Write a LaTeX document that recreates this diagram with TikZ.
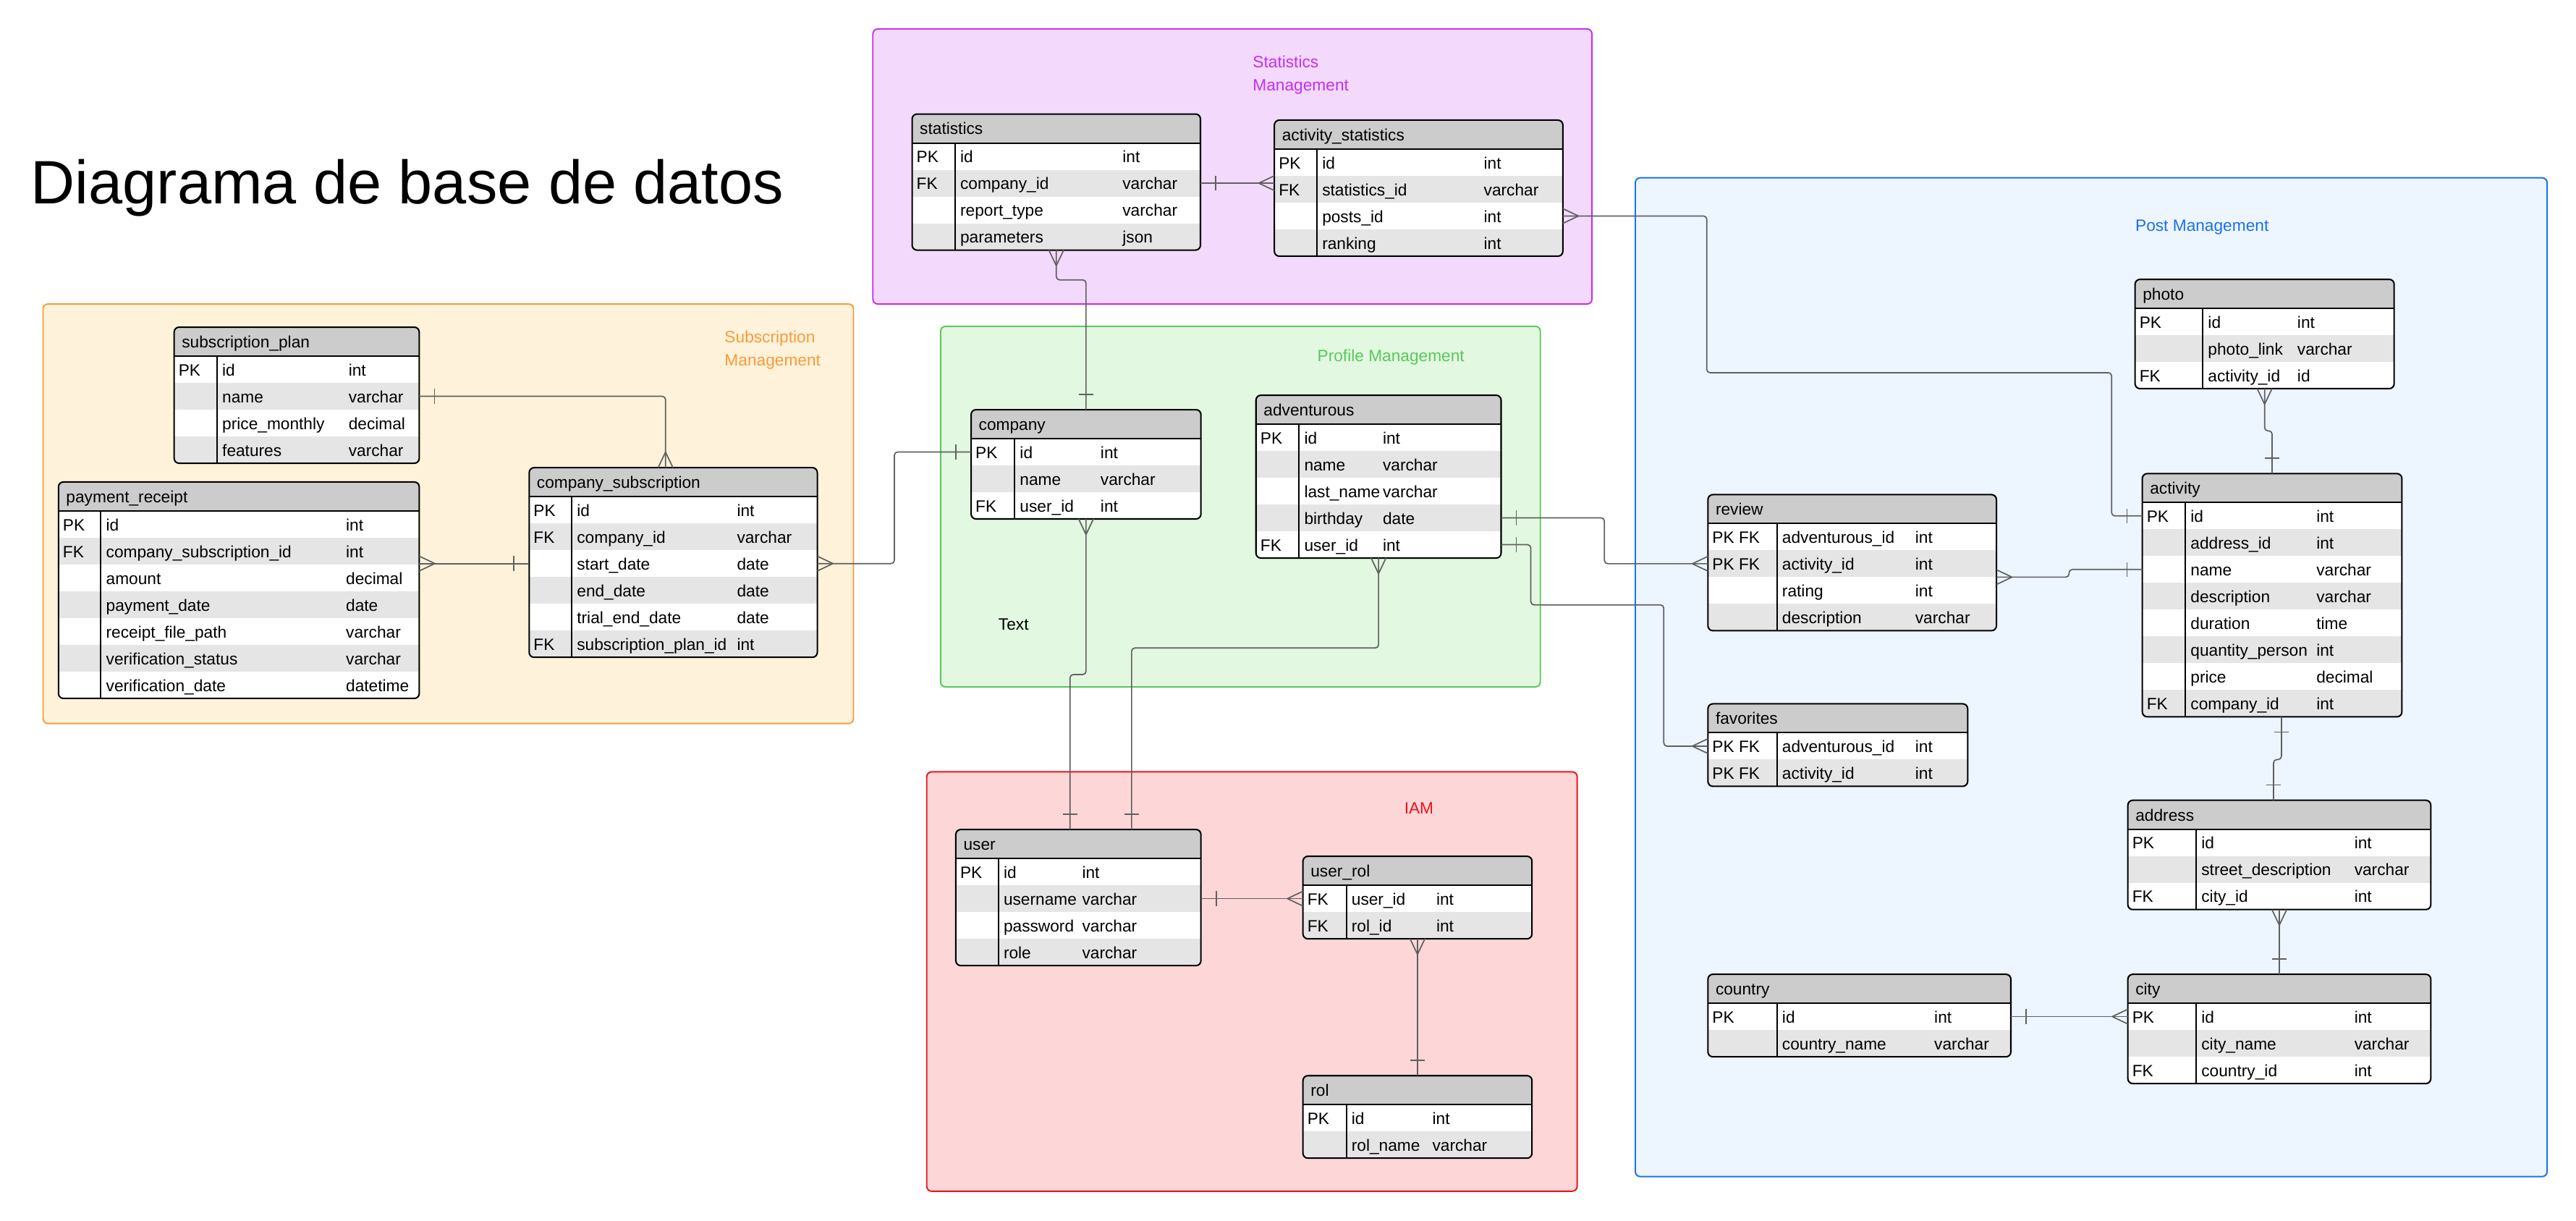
\documentclass[tikz,border=0pt]{standalone}
\usepackage{fontspec}
\setmainfont{Liberation Sans}
\usepackage{xcolor}
\usepackage{tikz}

\definecolor{connline}{HTML}{606060}
\definecolor{headgray}{HTML}{CCCCCC}
\definecolor{rowgray}{HTML}{E5E5E5}
\definecolor{statline}{HTML}{C430F2}
\definecolor{statfill}{HTML}{F3D9FC}
\definecolor{subline}{HTML}{F89C3C}
\definecolor{subfill}{HTML}{FEF2DA}
\definecolor{profline}{HTML}{5BC85B}
\definecolor{proffill}{HTML}{E2F8E0}
\definecolor{iamline}{HTML}{E8141C}
\definecolor{iamfill}{HTML}{FDD6D8}
\definecolor{postline}{HTML}{1A72E6}
\definecolor{postfill}{HTML}{EDF5FF}

\newcommand{\erdfont}{\fontsize{10}{12}\selectfont}

\tikzset{
  conn/.style={draw=connline, line width=0.75pt, rounded corners=2pt},
  connmark/.style={draw=connline, line width=0.75pt},
  crow/.pic={\draw[connmark] (9.5,0) -- (0,4.5) (9.5,0) -- (0,-4.5);},
  onebar/.pic={\draw[connmark] (9.3,4.5) -- (9.3,-4.5);},
  rowcell/.style={inner sep=0pt, outer sep=0pt, anchor=north west, minimum height=16.3pt},
  celltext/.style={inner sep=0pt, anchor=base west, font=\erdfont},
  tblborder/.style={draw=black, line width=0.9pt, rounded corners=3pt, inner sep=0pt, outer sep=0pt, anchor=north west},
  zone/.style={line width=0.85pt, rounded corners=3pt},
  zonelabel/.style={inner sep=0pt, anchor=base west, font={\fontsize{10}{14.4}\selectfont}}
}

% #1 node name, #2 title, #3 x, #4 y, #5 width, #6 key column, #7 type column, #8 rows
\newcommand{\erdtable}[8]{%
  \foreach \ekey/\ename/\etype [count=\i] in {#8} {\xdef\erdrows{\i}}%
  \pgfmathsetmacro{\erdh}{17.6+16.3*\erdrows}%
  \begin{scope}
    \clip[rounded corners=3pt] (#3,#4) rectangle ++(#5,\erdh);
    \fill[headgray] (#3,#4) rectangle ++(#5,17.6);
    \foreach \ekey/\ename/\etype [count=\i] in {#8} {
      \pgfmathsetmacro{\ry}{#4+17.6+16.3*(\i-1)}
      \ifodd\i \def\rowfill{white}\else \def\rowfill{rowgray}\fi
      \node[rowcell, minimum width=#5pt, fill=\rowfill] (#1-\i) at (#3,\ry) {};
      \node[celltext] at (#3+2.5,\ry+12) {\ekey};
      \node[celltext] at (#3+#6+3,\ry+12) {\ename};
      \node[celltext] at (#3+#7,\ry+12) {\etype};
    }
  \end{scope}
  \node[celltext] at (#3+4.5,#4+12.5) {#2};
  \draw[line width=0.9pt] (#3,#4+17.6) -- ++(#5,0);
  \draw[line width=0.8pt] (#3+#6,#4+17.6) -- ++(0,\erdh-17.6);
  \node[tblborder, minimum width=#5pt, minimum height=\erdh pt] (#1) at (#3,#4) {};
}

\begin{document}
\begin{tikzpicture}[x=1pt, y=-1pt]
\fill[white] (0,0) rectangle (1568,742.6);
\useasboundingbox (0,0) rectangle (1568,742.6);

\node[inner sep=0pt, anchor=base west, font={\fontsize{37.3}{41}\selectfont}] (title) at (18.6,123.8) {Diagrama de base de datos};

\draw[zone, draw=statline, fill=statfill] (531.3,17.6) rectangle (969,185);
\draw[zone, draw=subline, fill=subfill] (26.2,185) rectangle (519.5,440.3);
\draw[zone, draw=profline, fill=proffill] (572.5,198.6) rectangle (937.6,418);
\draw[zone, draw=iamline, fill=iamfill] (564.1,469.7) rectangle (960,724.9);
\draw[zone, draw=postline, fill=postfill] (995.4,108.2) rectangle (1550.4,716);

\node[zonelabel, text=statline, align=left, anchor=west] (statlabel) at (762.4,45.7) {Statistics\\Management};
\node[zonelabel, text=subline, align=left, anchor=west] (sublabel) at (440.9,213.0) {Subscription\\Management};
\node[zonelabel, text=profline] (proflabel) at (801.7,220.1) {Profile Management};
\node[zonelabel, text=iamline] (iamlabel) at (854.6,495.2) {IAM};
\node[zonelabel, text=postline] (postlabel) at (1299.6,140.5) {Post Management};
\node[zonelabel] (textlabel) at (607.6,383.6) {Text};

\erdtable{stats}{statistics}{555.2}{69.4}{175.5}{26.1}{127.9}{PK/id/int, FK/company\_id/varchar, {}/report\_type/varchar, {}/parameters/json}
\erdtable{actstats}{activity\_statistics}{775.7}{73.1}{175.6}{25.9}{127.3}{PK/id/int, FK/statistics\_id/varchar, {}/posts\_id/int, {}/ranking/int}
\erdtable{subplan}{subscription\_plan}{106}{199.1}{149.2}{26.1}{106}{PK/id/int, {}/name/varchar, {}/price\_monthly/decimal, {}/features/varchar}
\erdtable{payrec}{payment\_receipt}{35.6}{293.3}{219.6}{25.8}{174.8}{PK/id/int, FK/company\_subscription\_id/int, {}/amount/decimal, {}/payment\_date/date, {}/receipt\_file\_path/varchar, {}/verification\_status/varchar, {}/verification\_date/datetime}
\erdtable{compsub}{company\_subscription}{322.1}{284.6}{175.4}{25.9}{126.3}{PK/id/int, FK/company\_id/varchar, {}/start\_date/date, {}/end\_date/date, {}/trial\_end\_date/date, FK/subscription\_plan\_id/int}
\erdtable{company}{company}{591.1}{249.3}{139.9}{26.5}{78.6}{PK/id/int, {}/name/varchar, FK/user\_id/int}
\erdtable{adv}{adventurous}{764.5}{240.5}{149.2}{26.2}{77}{PK/id/int, {}/name/varchar, {}/last\_name/varchar, {}/birthday/date, FK/user\_id/int}
\erdtable{photo}{photo}{1299.6}{170}{157.7}{41.2}{98.6}{PK/id/int, {}/photo\_link/varchar, FK/activity\_id/id}
\erdtable{activity}{activity}{1304}{288.2}{158}{26.2}{105.8}{PK/id/int, {}/address\_id/int, {}/name/varchar, {}/description/varchar, {}/duration/time, {}/quantity\_person/int, {}/price/decimal, FK/company\_id/int}
\erdtable{review}{review}{1039.6}{301}{175.6}{42}{126}{PK FK/adventurous\_id/int, PK FK/activity\_id/int, {}/rating/int, {}/description/varchar}
\erdtable{fav}{favorites}{1039.6}{428.3}{158.1}{42}{126}{PK FK/adventurous\_id/int, PK FK/activity\_id/int}
\erdtable{address}{address}{1295.2}{487}{184.4}{41.6}{137.7}{PK/id/int, {}/street\_description/varchar, FK/city\_id/int}
\erdtable{city}{city}{1295.2}{592.9}{184.4}{41.6}{137.7}{PK/id/int, {}/city\_name/varchar, FK/country\_id/int}
\erdtable{country}{country}{1039.6}{592.9}{184.4}{42}{137.6}{PK/id/int, {}/country\_name/varchar}
\erdtable{user}{user}{581.8}{504.8}{149.2}{25.9}{76.7}{PK/id/int, {}/username/varchar, {}/password/varchar, {}/role/varchar}
\erdtable{userrol}{user\_rol}{793.1}{521.1}{139.4}{26.4}{81}{FK/user\_id/int, FK/rol\_id/int}
\erdtable{rol}{rol}{793.1}{654.6}{139.4}{26.4}{78.6}{PK/id/int, {}/rol\_name/varchar}

\draw[conn] (stats-2.east) -- (stats-2.east -| actstats.west);
\pic at (stats-2.east) {onebar};
\pic[rotate=180] at (stats-2.east -| actstats.west) {crow};

\draw[conn] (actstats-3.east) -| (1038.9,226.8) -| ([xshift=-18.7pt]activity-1.west) -- (activity-1.west);
\pic at (actstats-3.east) {crow};
\pic[rotate=180] at (activity-1.west) {onebar};

\draw[conn] (stats.south) -- ++(0,18.1) -| (company.north);
\pic[rotate=-90] at (stats.south) {crow};
\pic[rotate=90] at (company.north) {onebar};

\draw[conn] (subplan-2.east) -| ([xshift=-4.7pt]compsub.north);
\pic at (subplan-2.east) {onebar};
\pic[rotate=90] at ([xshift=-4.7pt]compsub.north) {crow};

\draw[conn] (payrec.east |- compsub-3.west) -- (compsub-3.west);
\pic at (payrec.east |- compsub-3.west) {crow};
\pic[rotate=180] at (compsub-3.west) {onebar};

\draw[conn] (compsub-3.east) -- ++(46.9,0) |- (company-1.west);
\pic at (compsub-3.east) {crow};
\pic[rotate=180] at (company-1.west) {onebar};

\draw[conn] (company.south) -- ++(0,94.7) -| ([xshift=-5.1pt]user.north);
\pic[rotate=-90] at (company.south) {crow};
\pic[rotate=90] at ([xshift=-5.1pt]user.north) {onebar};

\draw[conn] (adv.south) -- ++(0,54.7) -| ([xshift=32.4pt]user.north);
\pic[rotate=-90] at (adv.south) {crow};
\pic[rotate=90] at ([xshift=32.4pt]user.north) {onebar};

\draw[conn] (adv-4.east) -- ++(62.9,0) |- (review-2.west);
\pic at (adv-4.east) {onebar};
\pic[rotate=180] at (review-2.west) {crow};

\draw[conn] (adv-5.east) -- ++(18.1,0) |- (1012.7,368.1) |- (fav-1.west);
\pic at (adv-5.east) {onebar};
\pic[rotate=180] at (fav-1.west) {crow};

\draw[conn] (review-2.south east) -- ++(44.2,0) |- (activity-3.west);
\pic at (review-2.south east) {crow};
\pic[rotate=180] at (activity-3.west) {onebar};

\draw[conn] (photo.south) -- ++(0,25.7) -| (activity.north);
\pic[rotate=-90] at (photo.south) {crow};
\pic[rotate=90] at (activity.north) {onebar};

\draw[conn] ([xshift=5.7pt]activity.south) -- ++(0,26) -| ([xshift=-3.5pt]address.north);
\pic[rotate=-90] at ([xshift=5.7pt]activity.south) {onebar};
\pic[rotate=90] at ([xshift=-3.5pt]address.north) {onebar};

\draw[conn] (address.south) -- (city.north);
\pic[rotate=-90] at (address.south) {crow};
\pic[rotate=90] at (city.north) {onebar};

\draw[conn] (country-1.east) -- (city-1.west);
\pic at (country-1.east) {onebar};
\pic[rotate=180] at (city-1.west) {crow};

\draw[conn] (user-2.east) -- (userrol-1.west);
\pic at (user-2.east) {onebar};
\pic[rotate=180] at (userrol-1.west) {crow};

\draw[conn] (userrol.south) -- (rol.north);
\pic[rotate=-90] at (userrol.south) {crow};
\pic[rotate=90] at (rol.north) {onebar};
\end{tikzpicture}
\end{document}
